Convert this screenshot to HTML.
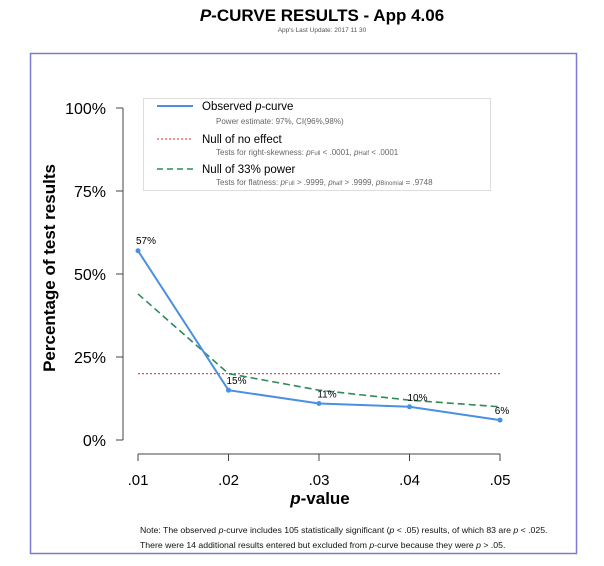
<!DOCTYPE html>
<html><head><meta charset="utf-8"><style>
body{margin:0;background:#fff;width:604px;height:561px;overflow:hidden;font-family:"Liberation Sans",sans-serif}
</style></head><body>
<svg width="604" height="561" font-family="Liberation Sans, sans-serif">
<text x="322" y="21" text-anchor="middle" font-size="17" font-weight="bold"><tspan font-style="italic">P</tspan>-CURVE RESULTS - App 4.06</text>
<text x="322" y="32" text-anchor="middle" font-size="6.5" fill="#555">App's Last Update: 2017 11 30</text>
<rect x="30.5" y="53.5" width="546" height="500" fill="none" stroke="#7a7ad8" stroke-width="1.5"/>
<g id="axes"></g>
<g id="marks"></g>
<text transform="translate(55,268) rotate(-90)" text-anchor="middle" font-size="17" font-weight="bold">Percentage of test results</text>
<text x="320" y="504" text-anchor="middle" font-size="17" font-weight="bold"><tspan font-style="italic">p</tspan>-value</text>
<g>
<rect x="143.5" y="98.5" width="347" height="92" fill="#fff" stroke="#ddd"/>
<line x1="157" y1="106" x2="193" y2="106" stroke="#4a90e2" stroke-width="2"/>
<text x="202" y="110" font-size="11.5">Observed <tspan font-style="italic">p</tspan>-curve</text>
<text x="216" y="124" font-size="8" fill="#666">Power estimate: 97%, CI(96%,98%)</text>
<line x1="157" y1="139" x2="193" y2="139" stroke="#e85050" stroke-width="1.3" stroke-dasharray="2,2"/>
<text x="202" y="143" font-size="11.5">Null of no effect</text>
<text x="216" y="155" font-size="8" fill="#666">Tests for right-skewness: <tspan font-style="italic">p</tspan><tspan font-size="6">Full</tspan> &lt; .0001,  <tspan font-style="italic">p</tspan><tspan font-size="6">Half</tspan> &lt; .0001</text>
<line x1="157" y1="169" x2="193" y2="169" stroke="#2e8b57" stroke-width="1.5" stroke-dasharray="6,4"/>
<text x="202" y="173" font-size="11.5">Null of 33% power</text>
<text x="216" y="185" font-size="8" fill="#666">Tests for flatness: <tspan font-style="italic">p</tspan><tspan font-size="6">Full</tspan> &gt; .9999,  <tspan font-style="italic">p</tspan><tspan font-size="6">half</tspan> &gt; .9999,  <tspan font-style="italic">p</tspan><tspan font-size="6">Binomial</tspan> = .9748</text>
</g>
<text x="140" y="533" font-size="8.7" fill="#111">Note: The observed <tspan font-style="italic">p</tspan>-curve includes 105 statistically significant (<tspan font-style="italic">p</tspan> &lt; .05) results, of which 83 are <tspan font-style="italic">p</tspan> &lt; .025.</text>
<text x="140" y="548" font-size="8.7" fill="#111">There were 14 additional results entered but excluded from <tspan font-style="italic">p</tspan>-curve because they were <tspan font-style="italic">p</tspan> &gt; .05.</text>
</svg>
<script>
const categories=[".01",".02",".03",".04",".05"];
const observed=[57,15,11,10,6];
const nullPower=[44,20,15,12,10];
const nullEffect=[20,20,20,20,20];
const yTicks=[0,25,50,75,100];
const NS="http://www.w3.org/2000/svg";
const x=i=>138+i*(362/(categories.length-1));
const y=v=>440-v*3.32;
function mk(tag,attrs,parent){const e=document.createElementNS(NS,tag);for(const k in attrs)e.setAttribute(k,attrs[k]);parent.appendChild(e);return e;}
const axes=document.getElementById('axes'),marks=document.getElementById('marks');
const ya=mk('line',{x1:123,x2:123,y1:y(100),y2:y(0),stroke:'#444'},axes);


yTicks.forEach(t=>{
 const l=mk('line',{x1:116,x2:123,y1:y(t),y2:y(t),stroke:'#444'},axes);
 
 
 const tx=mk('text',{x:106,y:y(t)+6,'text-anchor':'end','font-size':16},axes);tx.textContent=t+'%';
 
 
});
const xa=mk('line',{x1:x(0),x2:x(categories.length-1),y1:454,y2:454,stroke:'#444'},axes);


categories.forEach((c,i)=>{
 const l=mk('line',{x1:x(i),x2:x(i),y1:454,y2:461,stroke:'#444'},axes);
 
 
 const tx=mk('text',{x:x(i),y:485,'text-anchor':'middle','font-size':15},axes);tx.textContent=c;
 
 
});
const pts=a=>a.map((v,i)=>x(i)+','+y(v)).join(' ');
const r=mk('polyline',{points:pts(nullEffect),fill:'none',stroke:'#e85050','stroke-width':1.3,'stroke-dasharray':'2,2'},marks);


const g=mk('polyline',{points:pts(nullPower),fill:'none',stroke:'#2e8b57','stroke-width':1.6,'stroke-dasharray':'7,4'},marks);


const b=mk('polyline',{points:pts(observed),fill:'none',stroke:'#4a90e2','stroke-width':2},marks);


observed.forEach((v,i)=>{
 const c=mk('circle',{cx:x(i),cy:y(v),r:2.5,fill:'#4a90e2'},marks);
 
 
 const t=mk('text',{x:x(i)+(i==0?8:i==categories.length-1?2:8),y:y(v)-(i==0?7:6),'text-anchor':'middle','font-size':10},marks);t.textContent=v+'%';
 
 
});
</script>
</body></html>
